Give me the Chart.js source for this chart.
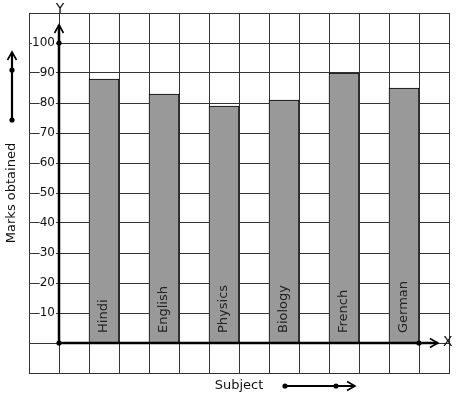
<!DOCTYPE html>
<html>
<head>
<meta charset="utf-8">
<script src="https://cdn.jsdelivr.net/npm/chart.js@4"></script>
<style>
  html, body { margin: 0; padding: 0; background: #fff; }
  #wrap { width: 457px; height: 399px; }
</style>
</head>
<body>
<div id="wrap"><canvas id="c"></canvas></div>
<script>
// Marks per subject.
const subjects = ['Hindi', 'English', 'Physics', 'Biology', 'French', 'German'];
const marks = [88, 83, 79, 81, 90, 85];
const yTicks = [10, 20, 30, 40, 50, 60, 70, 80, 90, 100];

const FONT = "'DejaVu Sans', Verdana, sans-serif";
const GRID = '#333';
const BAR = '#999999';
const INK = '#111';

// Graph-paper layout: 14 columns, a subject in every second column starting at the third.
const SLOTS = 14;
const labels = [], values = [];
for (let i = 0; i < SLOTS; i++) {
  const k = (i - 2) / 2;
  const hit = i >= 2 && i % 2 === 0 && k < subjects.length;
  labels.push(hit ? subjects[k] : '');
  values.push(hit ? marks[k] : null);
}

function chevron(ctx, x, y, dir) {
  // dir: 'up' or 'right'
  ctx.beginPath();
  if (dir === 'up') { ctx.moveTo(x - 4.5, y + 8); ctx.lineTo(x, y); ctx.lineTo(x + 4.5, y + 8); }
  else { ctx.moveTo(x - 8, y - 4.5); ctx.lineTo(x, y); ctx.lineTo(x - 8, y + 4.5); }
  ctx.stroke();
}
function dot(ctx, x, y) { ctx.beginPath(); ctx.arc(x, y, 2.6, 0, Math.PI * 2); ctx.fill(); }

const decor = {
  id: 'decor',
  afterDatasetsDraw(chart) {
    const { ctx, scales: { x, y } } = chart;
    const ox = x.getPixelForValue(0.5), oy = y.getPixelForValue(0);
    const topY = y.getPixelForValue(106), endX = x.getPixelForValue(13.13);
    ctx.save();
    // subject names written inside the bars
    ctx.fillStyle = '#222';
    ctx.font = '13px ' + FONT;
    ctx.textAlign = 'left'; ctx.textBaseline = 'middle';
    chart.getDatasetMeta(0).data.forEach((el, i) => {
      if (values[i] == null) return;
      ctx.save(); ctx.translate(el.x, oy - 10); ctx.rotate(-Math.PI / 2);
      ctx.fillText(labels[i], 0, 0); ctx.restore();
    });
    // axes
    ctx.strokeStyle = '#000'; ctx.fillStyle = '#000';
    ctx.lineWidth = 2.5;
    ctx.beginPath(); ctx.moveTo(ox, oy); ctx.lineTo(ox, topY); ctx.stroke();
    ctx.beginPath(); ctx.moveTo(ox, oy); ctx.lineTo(endX, oy); ctx.stroke();
    ctx.lineWidth = 1.6;
    chevron(ctx, ox, topY, 'up');
    chevron(ctx, endX, oy, 'right');
    dot(ctx, ox, oy);
    dot(ctx, ox, y.getPixelForValue(100));
    dot(ctx, x.getPixelForValue(12.5), oy);
    ctx.font = '14px ' + FONT; ctx.textAlign = 'center'; ctx.textBaseline = 'middle';
    ctx.fillStyle = INK;
    ctx.fillText('Y', ox + 1, 9);
    ctx.fillText('X', endX + 10, oy - 1);
    // side arrows next to the axis titles
    ctx.fillStyle = '#000';
    ctx.lineWidth = 2.2;
    ctx.beginPath(); ctx.moveTo(12, 120); ctx.lineTo(12, 52); ctx.stroke();
    ctx.lineWidth = 1.6; chevron(ctx, 12, 52, 'up');
    dot(ctx, 12, 120); dot(ctx, 12, 70);
    ctx.lineWidth = 2.2;
    ctx.beginPath(); ctx.moveTo(285, 386); ctx.lineTo(354, 386); ctx.stroke();
    ctx.lineWidth = 1.6; chevron(ctx, 355, 386, 'right');
    dot(ctx, 285, 386); dot(ctx, 336, 386);
    ctx.restore();
  }
};

new Chart(document.getElementById('c'), {
  type: 'bar',
  data: {
    labels,
    datasets: [{
      data: values,
      backgroundColor: BAR,
      borderColor: '#000',
      borderWidth: 1,
      barPercentage: 1,
      categoryPercentage: 1
    }]
  },
  options: {
    responsive: true, maintainAspectRatio: false, animation: false,
    layout: { padding: { top: 13, right: 8, left: 0, bottom: 0 } },
    plugins: { legend: { display: false }, tooltip: { enabled: false } },
    scales: {
      x: {
        grid: { color: GRID, lineWidth: 1, drawTicks: false, offset: true },
        border: { color: GRID },
        ticks: { display: false },
        title: { display: true, text: 'Subject', color: INK, font: { family: FONT, size: 13 }, padding: { top: 4, bottom: 6 } },
        afterFit: (s) => { s.height = 26; }
      },
      y: {
        min: -10, max: 110,
        grid: { color: GRID, lineWidth: 1, drawTicks: false },
        border: { color: GRID },
        ticks: {
          stepSize: 10, mirror: true, crossAlign: 'far', padding: 3,
          color: INK, font: { family: FONT, size: 12 },
          callback: (v) => yTicks.includes(v) ? String(v) : '',
          showLabelBackdrop: (c) => !!(c.tick && yTicks.includes(c.tick.value)),
          backdropColor: '#fff',
          backdropPadding: { top: 0, bottom: 0, left: 0, right: 1 }
        },
        title: { display: true, text: 'Marks obtained', color: INK, font: { family: FONT, size: 13 }, padding: { top: 4, bottom: 4 } },
        afterFit: (s) => { s.width = 29; }
      }
    }
  },
  plugins: [decor]
});
</script>
</body>
</html>
